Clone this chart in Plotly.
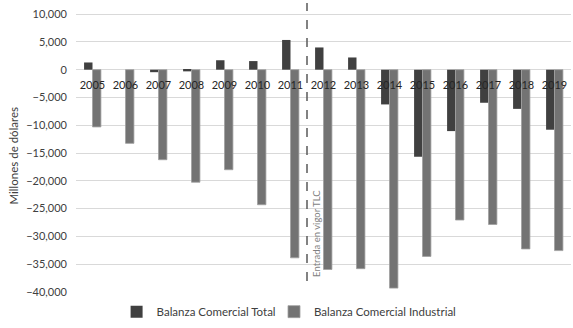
import plotly.graph_objects as go

years = ["2005", "2006", "2007", "2008", "2009", "2010", "2011", "2012",
         "2013", "2014", "2015", "2016", "2017", "2018", "2019"]
balanza_total = [1300, 0, -450, -300, 1700, 1550, 5350, 4000,
                 2200, -6250, -15650, -11050, -5950, -7050, -10800]
balanza_industrial = [-10300, -13250, -16200, -20250, -18000, -24300, -33850, -35950,
                      -35800, -39300, -33600, -27050, -27850, -32250, -32550]
y_ticks = [10000, 5000, 0, -5000, -10000, -15000, -20000, -25000, -30000, -35000, -40000]
tlc_position = 6.5  # between 2011 and 2012
tlc_label = "Entrada en vigor TLC"
tlc_line_range = [-38000, 12000]

FONT = "Lato, 'Open Sans', sans-serif"

fig = go.Figure()
fig.add_trace(go.Bar(
    x=years, y=balanza_total, name="Balanza Comercial Total", legend="legend",
    marker=dict(color="#404040", line=dict(width=0)),
))
fig.add_trace(go.Bar(
    x=years, y=balanza_industrial, name="Balanza Comercial Industrial", legend="legend2",
    marker=dict(color="#737373", line=dict(width=0.8, color="#a0a0a0")),
))

y_min, y_max = -40000, 12000
zero_frac = (0 - y_min) / (y_max - y_min)

fig.add_shape(type="line", xref="x", yref="y",
              x0=tlc_position, x1=tlc_position,
              y0=tlc_line_range[0], y1=tlc_line_range[1],
              line=dict(color="#595959", width=1.5, dash="dash"))
fig.add_annotation(x=tlc_position, y=tlc_line_range[0], xref="x", yref="y",
                   text=tlc_label, textangle=-90, showarrow=False,
                   xanchor="left", yanchor="bottom", xshift=2, yshift=2,
                   font=dict(family=FONT, size=9.5, color="#7f7f7f"))
fig.add_annotation(x=0, y=0.5, xref="paper", yref="paper",
                   text="Millones de dólares", textangle=-90, showarrow=False,
                   xanchor="center", yanchor="middle", xshift=-63, yshift=-8,
                   font=dict(family=FONT, size=11.5, color="#404040"))

legend_common = dict(orientation="h", xanchor="left", y=-0.068, yanchor="middle",
                     font=dict(family=FONT, size=11.5, color="#404040"),
                     itemwidth=30, bgcolor="rgba(0,0,0,0)")

fig.update_layout(
    width=573, height=328,
    margin=dict(l=76, r=2, t=3, b=31),
    plot_bgcolor="white", paper_bgcolor="white",
    barmode="group", bargap=0.49, bargroupgap=0,
    font=dict(family=FONT, size=11, color="#404040"),
    showlegend=True,
    legend=dict(x=0.082, **legend_common),
    legend2=dict(x=0.40, **legend_common),
    xaxis=dict(type="category", anchor="free", position=zero_frac, automargin=False,
               showgrid=False, showline=False, ticks="", zeroline=False,
               layer="above traces", ticklabelstandoff=7,
               tickfont=dict(family=FONT, size=11, color="#262626")),
    yaxis=dict(range=[y_min, y_max], tickvals=y_ticks, tickformat=",d",
               automargin=False,
               showgrid=True, gridcolor="#d9d9d9", gridwidth=1,
               zeroline=True, zerolinecolor="#d9d9d9", zerolinewidth=1,
               showline=False, ticks="", ticklabelstandoff=8,
               tickfont=dict(family=FONT, size=11, color="#404040")),
)

fig.write_html("out.html", config={"displayModeBar": False},
               post_script="document.body.style.margin='0';document.body.style.overflow='hidden';")
